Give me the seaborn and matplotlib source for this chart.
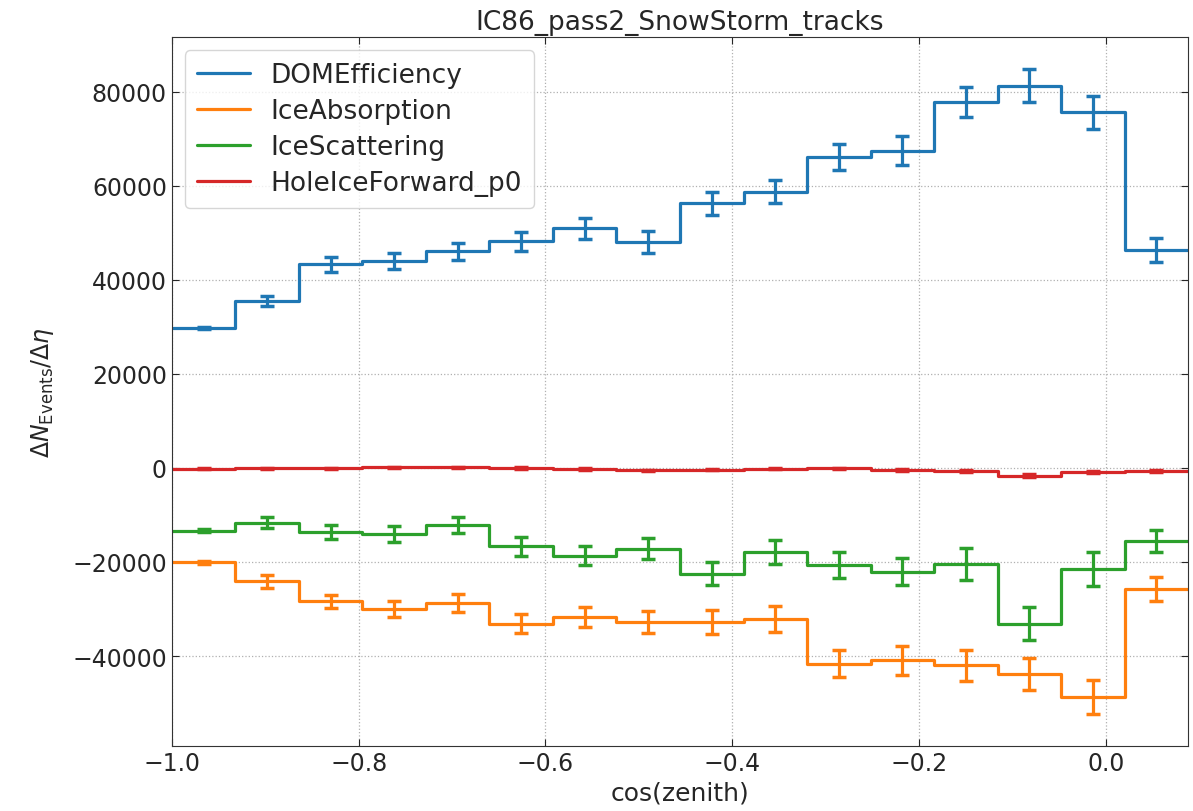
import numpy as np
import pandas as pd
import matplotlib
matplotlib.use("Agg")
import matplotlib.pyplot as plt
import seaborn as sns

# ---- data ----
bin_edges = np.linspace(-1.0, 0.088, 17)
series_names = ["DOMEfficiency", "IceAbsorption", "IceScattering", "HoleIceForward_p0"]

dom_eff = [29800, 35500, 43300, 44000, 46100, 48200, 51000, 48100,
           56300, 58800, 66200, 67500, 77900, 81300, 75700, 46300]
dom_eff_err = [300, 1100, 1500, 1650, 1800, 2000, 2200, 2400,
               2400, 2500, 2700, 3050, 3200, 3500, 3500, 2550]

ice_abs = [-20100, -24100, -28400, -29900, -28800, -33100, -31700, -32800,
           -32800, -32100, -41600, -40900, -42000, -43800, -48700, -25700]
ice_abs_err = [300, 1400, 1400, 1700, 1900, 2000, 2050, 2400,
               2600, 2800, 2900, 3100, 3300, 3400, 3600, 2550]

ice_sca = [-13300, -11600, -13700, -14000, -12200, -16700, -18700, -17200,
           -22500, -17900, -20600, -22100, -20400, -33100, -21500, -15500]
ice_sca_err = [300, 1100, 1500, 1700, 1700, 2000, 2000, 2200,
               2500, 2500, 2700, 2900, 3400, 3500, 3600, 2400]

hole_ice = [-150, -80, -80, 150, 150, 0, -200, -500,
            -350, -150, -100, -500, -550, -1600, -850, -550]
hole_ice_err = [150, 150, 150, 150, 150, 150, 150, 150,
                150, 150, 150, 200, 200, 250, 200, 200]

all_vals = [dom_eff, ice_abs, ice_sca, hole_ice]
all_errs = [dom_eff_err, ice_abs_err, ice_sca_err, hole_ice_err]
colors = sns.color_palette("tab10", 4)

# ---- style ----
sns.set_style("ticks")
plt.rcParams.update({
    "font.family": ["DejaVu Sans"],
    "font.size": 17,
    "axes.edgecolor": "#333333",
    "xtick.direction": "in",
    "ytick.direction": "in",
    "xtick.top": True,
    "ytick.right": True,
    "xtick.major.size": 5,
    "ytick.major.size": 5,
})

fig = plt.figure(figsize=(11.93, 8.12), dpi=100)
ax = fig.add_axes([0.144, 0.080, 0.852, 0.873])

centers = 0.5 * (bin_edges[:-1] + bin_edges[1:])
for name, vals, errs, col in zip(series_names, all_vals, all_errs, colors):
    df = pd.DataFrame({"x": bin_edges, "y": list(vals) + [vals[-1]]})
    sns.lineplot(data=df, x="x", y="y", drawstyle="steps-post", color=col,
                 linewidth=2.3, label=name, ax=ax, sort=False)
    ax.errorbar(centers, vals, yerr=errs, fmt="none", ecolor=col,
                elinewidth=2.3, capsize=5, capthick=2.5)

ax.set_xlim(bin_edges[0], bin_edges[-1])
ax.set_xticks([-1.0, -0.8, -0.6, -0.4, -0.2, 0.0])
ax.set_yticks([-40000, -20000, 0, 20000, 40000, 60000, 80000])
ax.tick_params(labelsize=17)
ax.grid(True, linestyle=":", color="#b0b0b0", linewidth=0.9)
for s in ax.spines.values():
    s.set_visible(True)

ax.set_xlabel("cos(zenith)", fontsize=18, labelpad=4)
ax.set_ylabel(r"$\Delta N_{\rm Events}/\Delta \eta$", fontsize=17, labelpad=12)
ax.set_title("IC86_pass2_SnowStorm_tracks", fontsize=19, pad=6)

leg = ax.legend(loc="upper left", fontsize=19, frameon=True, fancybox=True,
                framealpha=0.8, edgecolor="#cccccc", borderpad=0.45,
                labelspacing=0.38, handlelength=2.0)

fig.savefig("out.png", dpi=100)
